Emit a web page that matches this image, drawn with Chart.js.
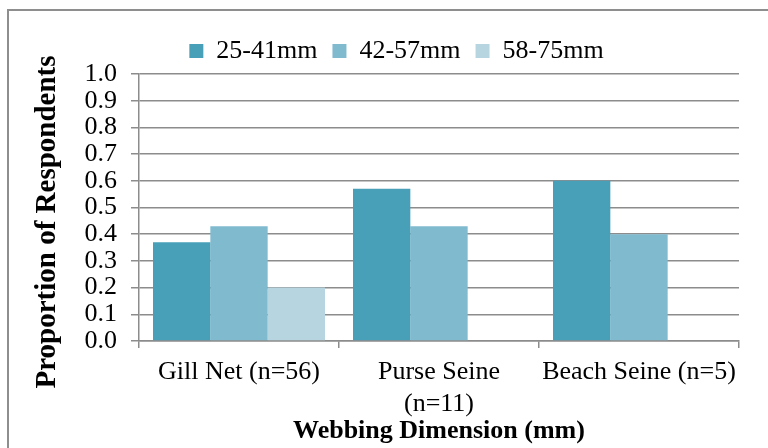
<!DOCTYPE html>
<html>
<head>
<meta charset="utf-8">
<script src="https://cdn.jsdelivr.net/npm/chart.js@4/dist/chart.umd.min.js"></script>
<style>
    html, body { margin: 0; padding: 0; background: #fff; }
    #wrap { position: relative; width: 768px; height: 448px; overflow: hidden; }
    #frame { position: absolute; left: 7px; top: 9px; width: 800px; height: 500px; border: 2px solid #8e8e8e; pointer-events: none; }
</style>
</head>
<body>
<div id="wrap">
    <canvas id="meshChart" width="768" height="448"></canvas>
    <div id="frame"></div>
</div>
<script>
// Fishing gear types and the proportion of respondents per webbing size
const categories = ['Gill Net (n=56)', ['Purse Seine', '(n=11)'], 'Beach Seine (n=5)'];
const sizeClasses = ['25-41mm', '42-57mm', '58-75mm'];
const size25to41 = [0.37, 0.57, 0.60];
const size42to57 = [0.43, 0.43, 0.40];
const size58to75 = [0.20, 0, 0];
const yMin = 0;
const yMax = 1.0;
const yStep = 0.1;

const gridGray = '#8c8c8c';
const serif = '"Liberation Serif", "Times New Roman", serif';

Chart.defaults.font.family = serif;
Chart.defaults.color = '#000';

// nudge the legend to the right, it sits over the plot centre in the original
const legendShift = {
    id: 'legendShift',
    afterLayout(chart) {
        chart.legend.left += 27;
        chart.legend.right += 27;
    }
};

const meshCtx = document.getElementById('meshChart');
new Chart(meshCtx, {
    type: 'bar',
    data: {
        labels: categories,
        datasets: [
            {
                label: sizeClasses[0],
                data: size25to41,
                backgroundColor: '#47a0b8'
            },
            {
                label: sizeClasses[1],
                data: size42to57,
                backgroundColor: '#7fbacf'
            },
            {
                label: sizeClasses[2],
                data: size58to75,
                backgroundColor: '#b7d5e0'
            }
        ]
    },
    options: {
        responsive: false,
        animation: false,
        categoryPercentage: 0.86,
        barPercentage: 1.0,
        layout: {
            padding: { top: 23, right: 29, left: 0, bottom: 0 }
        },
        plugins: {
            legend: {
                position: 'top',
                labels: {
                    boxWidth: 14,
                    boxHeight: 14,
                    padding: 15,
                    font: { family: serif, size: 26 }
                }
            },
            tooltip: { enabled: false }
        },
        scales: {
            x: {
                grid: {
                    drawOnChartArea: false,
                    drawTicks: true,
                    tickLength: 7,
                    color: gridGray,
                    lineWidth: 1.5
                },
                border: { color: gridGray, width: 1.5 },
                ticks: {
                    padding: 9,
                    maxRotation: 0,
                    font: { family: serif, size: 26 }
                },
                title: {
                    display: true,
                    text: 'Webbing Dimension (mm)',
                    font: { family: serif, size: 26, weight: 'bold' },
                    padding: { top: 0, bottom: 1 }
                },
                afterFit(scale) {
                    scale.height = 107;
                }
            },
            y: {
                min: yMin,
                max: yMax,
                grid: {
                    color: gridGray,
                    lineWidth: 1.5,
                    tickLength: 8
                },
                border: { color: gridGray, width: 1.5 },
                ticks: {
                    stepSize: yStep,
                    autoSkip: false,
                    padding: 14,
                    font: { family: serif, size: 26 },
                    callback: function(value) {
                        return value.toFixed(1);
                    }
                },
                title: {
                    display: true,
                    text: 'Proportion of Respondents\u00a0\u00a0\u00a0\u00a0',
                    font: { family: serif, size: 29, weight: 'bold' },
                    padding: { top: 30, bottom: 0 }
                },
                afterFit(scale) {
                    scale.width = 139;
                }
            }
        }
    },
    plugins: [legendShift]
});
</script>
</body>
</html>
